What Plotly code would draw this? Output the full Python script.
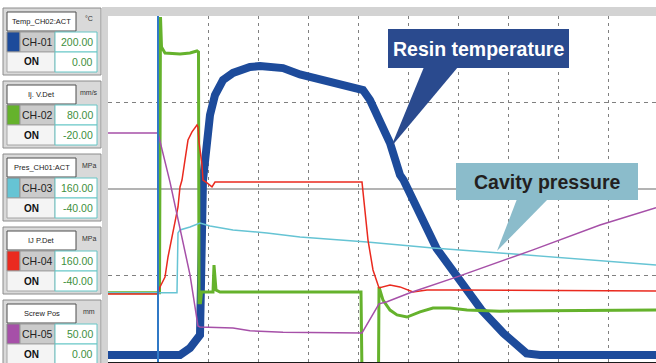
import plotly.graph_objects as go

W, H = 656, 363

# ---------------- data (time in grid divisions) ----------------
temp_t = [0, 1.44, 1.64, 1.78, 1.84, 1.90, 1.98, 2.04, 2.14, 2.30, 2.50, 2.84, 3.04, 3.50, 3.84,
          4.50, 5.10, 5.24, 5.44, 5.64, 5.84, 5.91, 6.57, 6.97, 7.14, 7.47, 7.91, 8.37, 8.64, 10.96]
temp_c = [4.0, 4.0, 8.1, 12.7, 15.6, 105.2, 128.3, 142.8, 154.3, 163.0, 167.1, 170.5, 171.1, 169.9, 166.2,
          161.8, 157.2, 151.4, 139.9, 126.6, 108.1, 105.2, 65.7, 49.7, 42.0, 30.1, 16.6, 5.0, 4.0, 4.0]

vel_t = [0, 1.03, 1.05, 1.07, 1.14, 1.44, 1.64, 1.78, 1.81, 1.82, 1.85, 1.87, 2.10, 2.12, 2.16,
         2.24, 5.06, 5.08, 5.41, 5.42, 5.50, 5.64, 5.78, 5.98, 6.24, 6.50, 6.84, 7.18, 7.84, 10.96]
vel_mms = [0, 0, 79.7, 71, 69.3, 69, 69.3, 69.9, 69.6, -2.9, -2.9, 0.2, 0.2, 8.0, 0.8,
           0.2, 0.2, -23.8, -23.8, 1.7, -2.1, -5.0, -6.4, -7.0, -5.5, -4.4, -4.4, -5.0, -5.3, -5.0]

cav_t = [0, 1.38, 1.40, 1.44, 1.64, 1.84, 2.04, 2.50, 3.18, 3.84, 5.18, 6.50, 7.84, 9.18, 10.96]
cav_mpa = [0, 0, 34.6, 36.3, 38.0, 40.3, 38.6, 36.3, 34.6, 32.3, 29.4, 25.9, 23.0, 20.1, 16.1]

inj_t = [0, 1.00, 1.04, 1.14, 1.20, 1.28, 1.34, 1.40, 1.44, 1.48, 1.54, 1.60, 1.68, 1.78, 1.80, 1.82,
         1.88, 1.90, 1.98, 2.08, 2.14, 5.08, 5.20, 5.30, 5.42, 5.64, 5.84, 6.10, 6.38, 6.84, 10.96]
inj_mpa = [-0.7, -0.7, 3.4, 9.1, 20.7, 32.3, 40.3, 49.6, 61.2, 65.2, 76.8, 88.3, 93.0, 97.0, 95.8, 87.2,
           73.9, 65.2, 63.5, 61.2, 64.0, 64.0, 30.5, 13.2, 2.8, 4.5, 3.4, 0.5, 1.6, 1.6, 1.0]

pos_t = [0, 1.00, 1.24, 1.44, 1.64, 1.80, 1.84, 2.50, 2.84, 3.50, 4.50, 5.08, 5.42, 5.58, 6.04,
         6.98, 8.50, 9.84, 10.96]
pos_mm = [33.1, 33.1, 26.0, 19.4, 12.6, 5.2, 5.06, 4.9, 4.5, 4.3, 4.2, 4.2, 8.4, 8.7, 10.0,
          12.3, 16.2, 19.8, 22.3]

cursor_t = 1.0

# channel panel
chan_labels = ["Temp_CH02:ACT", "Ij. V.Det", "Pres_CH01:ACT", "IJ P.Det", "Screw Pos"]
chan_units = ["°C", "mm/s", "MPa", "MPa", "mm"]
chan_ids = ["CH-01", "CH-02", "CH-03", "CH-04", "CH-05"]
chan_max = [200.00, 80.00, 160.00, 160.00, 50.00]
chan_min = [0.00, -20.00, -40.00, -40.00, 0.00]
chan_colors = ["#1d4b9b", "#65b22c", "#66c4d4", "#ea2a1f", "#a650a8"]

callout_texts = ["Resin temperature", "Cavity pressure"]

# ---------------- helpers ----------------
def X(px):
    return px / W

def Y(py):
    return 1 - py / H

shapes = []
annotations = []

def rect(x0, y0, x1, y1, fill, line="#888", lw=1):
    shapes.append(dict(type="rect", xref="paper", yref="paper",
                       x0=X(x0), x1=X(x1), y0=Y(y1), y1=Y(y0),
                       fillcolor=fill, line=dict(color=line, width=lw), layer="above"))

def text(px, py, s, size, color="#222", xanchor="center", bold=False,
         family="Liberation Sans, Arial, sans-serif"):
    annotations.append(dict(xref="paper", yref="paper", x=X(px), y=Y(py), text=s,
                            showarrow=False, xanchor=xanchor, yanchor="middle",
                            font=dict(size=size, color=color, family=family,
                                      weight="bold" if bold else "normal")))

def poly(pts, fill):
    d = "M " + " L ".join(f"{X(a):.5f},{Y(b):.5f}" for a, b in pts) + " Z"
    shapes.append(dict(type="path", xref="paper", yref="paper", path=d,
                       fillcolor=fill, line=dict(width=0), layer="above"))

# grey frame around plot
rect(102, 7, 656, 16, "#d3d3d3", "#d3d3d3", 0)
rect(102, 7, 108, 363, "#d3d3d3", "#d3d3d3", 0)

# channel panel
for i in range(5):
    T = 8 + 73 * i
    rect(3, T, 101, T + 67, "#d9d9d9", "#8c8c8c")
    rect(7, T + 4, 76, T + 23, "#ffffff", "#4d4d4d")
    text(41.5, T + 13.5, chan_labels[i], 7.5, "#1a1a1a")
    text(89, T + 11, chan_units[i], 7, "#333")
    rect(7, T + 24, 20, T + 44, chan_colors[i], "#888")
    rect(20, T + 24, 55, T + 44, "#cbcbcb", "#9a9a9a")
    text(37.5, T + 34, chan_ids[i], 10.5, "#222")
    rect(55, T + 24, 97, T + 44, "#ffffff", "#66c6c6")
    text(95, T + 34, f"{chan_max[i]:.2f}", 10.5, "#3d8f3d", xanchor="right")
    rect(7, T + 44, 55, T + 64, "#f4f4f4", "#a5a5a5")
    text(31, T + 54, "ON", 10, "#111", bold=True)
    rect(55, T + 44, 97, T + 64, "#ffffff", "#66c6c6")
    text(95, T + 54, f"{chan_min[i]:.2f}", 10.5, "#3d8f3d", xanchor="right")

# callouts
cfont = "Liberation Sans, Arial, sans-serif"
rect(388, 29, 569, 68, "#2a4a8e", "#2a4a8e", 0)
poly([(424, 67), (458, 67), (391, 147)], "#2a4a8e")
text(478.5, 49, callout_texts[0], 19.5, "#ffffff", bold=True, family=cfont)

rect(456, 163, 638, 200, "#8bbccb", "#8bbccb", 0)
poly([(517, 199), (548, 199), (497, 251)], "#8bbccb")
text(547, 182, callout_texts[1], 19.5, "#231f20", bold=True, family=cfont)

# solid middle grid line and cursor (data coords)
shapes.append(dict(type="line", xref="x", yref="y", x0=0, x1=10.96, y0=100, y1=100,
                   line=dict(color="#9a9a9a", width=1.5), layer="below"))
shapes.append(dict(type="line", xref="x", yref="paper", x0=cursor_t, x1=cursor_t,
                   y0=Y(362), y1=Y(16), line=dict(color="#3079c6", width=2), layer="above"))

# ---------------- traces ----------------
fig = go.Figure()
fig.add_trace(go.Scatter(x=cav_t, y=cav_mpa, mode="lines", yaxis="y3",
                         line=dict(color=chan_colors[2], width=1.5)))
fig.add_trace(go.Scatter(x=vel_t, y=vel_mms, mode="lines", yaxis="y2",
                         line=dict(color=chan_colors[1], width=3)))
fig.add_trace(go.Scatter(x=temp_t, y=temp_c, mode="lines", yaxis="y",
                         line=dict(color=chan_colors[0], width=8)))
fig.add_trace(go.Scatter(x=pos_t, y=pos_mm, mode="lines", yaxis="y4",
                         line=dict(color=chan_colors[4], width=1.5)))
fig.add_trace(go.Scatter(x=inj_t, y=inj_mpa, mode="lines", yaxis="y3",
                         line=dict(color=chan_colors[3], width=1.5)))

ydom = [Y(362), Y(16)]
fig.update_layout(
    width=W, height=H, autosize=False,
    margin=dict(l=0, r=0, t=0, b=0, pad=0),
    paper_bgcolor="white", plot_bgcolor="white",
    showlegend=False,
    xaxis=dict(domain=[X(108), 1], range=[0, 10.96], dtick=1, tick0=0,
               showgrid=True, gridcolor="#808080", gridwidth=1, griddash="3px,4px",
               showticklabels=False, ticks="", zeroline=False,
               showline=True, linecolor="#1a1a1a", linewidth=1.2, mirror=True),
    yaxis=dict(domain=ydom, range=[chan_min[0], chan_max[0]], tickvals=[50, 150],
               showgrid=True, gridcolor="#808080", gridwidth=1, griddash="4px,4px",
               showticklabels=False, ticks="", zeroline=False,
               showline=True, linecolor="#1a1a1a", linewidth=1.2, mirror=True),
    yaxis2=dict(overlaying="y", range=[chan_min[1], chan_max[1]], visible=False, showgrid=False),
    yaxis3=dict(overlaying="y", range=[chan_min[2], chan_max[2]], visible=False, showgrid=False),
    yaxis4=dict(overlaying="y", range=[chan_min[4], chan_max[4]], visible=False, showgrid=False),
    shapes=shapes,
    annotations=annotations,
)

fig.write_html("out.html", config={"displayModeBar": False},
               post_script="document.body.style.margin='0';")
